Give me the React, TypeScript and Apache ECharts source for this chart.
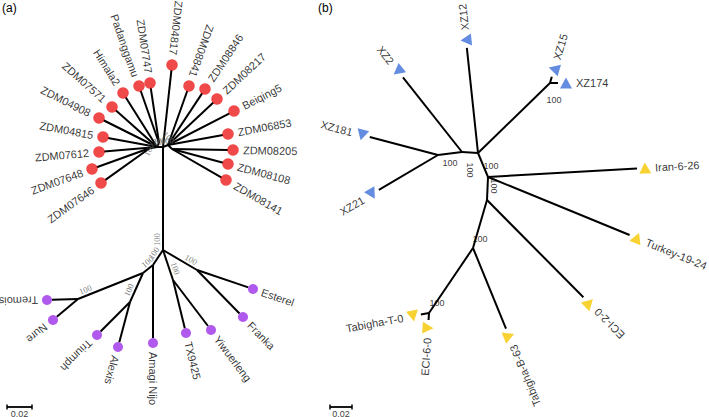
import React, { useEffect, useRef } from "react";
import * as echarts from "echarts";

// ---------------- Panel (a) data (layout units, root of the tree = 0,0) ----------------
const aInternalNames = ["R", "HL", "HLb", "HLc", "HR", "HRb", "N1", "NEF", "NTY", "NA", "NB", "NTN", "NTA"];
const aInternalParents: (string | null)[] = [null, "R", "HL", "HL", "R", "HR", "R", "N1", "N1", "N1", "NA", "NB", "NB"];
const aInternalX = [0, -6, -13, -4, 5, 9, 0, 34, 10, -10, -20, -85, -33];
const aInternalY = [0, 0, 1, -4, -2, 2, 103, 123, 133, 118, 126, 152, 155];
const aInternalSupport: (number | null)[] = [null, 100, 100, 100, 100, 100, 100, 100, 100, 100, 100, 100, 100];

const aTopTips = ["ZDM04817", "ZDM08841", "ZDM08846", "ZDM08217", "Beiqing5", "ZDM06853", "ZDM08205", "ZDM08108", "ZDM08141",
  "ZDM07747", "Padanggamu", "Himala2", "ZDM07571", "ZDM04908", "ZDM04815", "ZDM07612", "ZDM07648", "ZDM07646"];
const aTopParents = ["R", "HR", "HR", "HR", "HR", "HR", "HRb", "HRb", "HRb", "HLc", "HLc", "HL", "HL", "HL", "HL", "HL", "HLb", "HLb"];
const aTopX = [9, 26, 42, 54, 71, 65, 70, 65, 63, -13, -24, -40, -51, -64, -60, -64, -71, -62];
const aTopY = [-82, -61, -58, -48, -36, -13, 3, 17, 33, -64, -61, -54, -40, -29, -10, 5, 22, 36];

const aBottomTips = ["Esterel", "Franka", "TX9425", "Yiwuerleng", "Amagi Nijo", "Tremois", "Nure", "Triumph", "Alexis"];
const aBottomParents = ["NEF", "NEF", "NTY", "NTY", "NA", "NTN", "NTN", "NTA", "NTA"];
const aBottomX = [90, 80, 23, 48, -10, -116, -110, -66, -45];
const aBottomY = [142, 170, 186, 183, 196, 153, 173, 188, 200];

// ---------------- Panel (b) data ----------------
const bInternalNames = ["A", "B", "C", "NX", "D", "E", "F", "G"];
const bInternalParents: (string | null)[] = [null, "A", "B", "A", "A", "D", "E", "F"];
const bInternalX = [0, -16, -40, 72, 10, 9, -5, -49];
const bInternalY = [0, -1, 2, -70, 24, 47, 95, 160];
const bInternalSupport: (number | null)[] = [null, 100, 100, 100, 100, 100, 100, 100];

const bBlueTips = ["XZ12", "XZ2", "XZ15", "XZ174", "XZ181", "XZ21"];
const bBlueParents = ["A", "B", "NX", "NX", "C", "C"];
const bBlueX = [-12, -80, 76, 88, -116, -106];
const bBlueY = [-113, -82, -84, -70, -18, 41];

const bYellowTips = ["Iran-6-26", "Turkey-19-24", "ECI-2-0", "Tabigha-B-63", "Tabigha-T-0", "ECI-6-0"];
const bYellowParents = ["D", "D", "E", "F", "G", "G"];
const bYellowX = [167, 159, 111, 31, -65, -50];
const bYellowY = [15, 85, 150, 183, 163, 175];

const scaleBarValue = 0.02;
const scaleBarLabel = "0.02";
const aUnitsPerSubst = 1250;
const bUnitsPerSubst = 1100;

// ---------------- styling (not data) ----------------
const bSupportPlacement: Record<string, { dx: number; dy: number; rotate: number }> = {
  B: { dx: 8, dy: 18, rotate: -90 },
  C: { dx: 12, dy: 8, rotate: 0 },
  NX: { dx: 4, dy: 17, rotate: 0 },
  D: { dx: 3, dy: -11, rotate: 0 },
  E: { dx: 7, dy: -14, rotate: -90 },
  F: { dx: 7, dy: -9, rotate: 0 },
  G: { dx: 8, dy: -10, rotate: 0 },
};

const FONT = "Liberation Sans";

type TNode = { name: string; parent: string | null; x: number; y: number };

function makeNodes(names: string[], parents: (string | null)[], xs: number[], ys: number[]): TNode[] {
  return names.map((n, i) => ({ name: n, parent: parents[i], x: xs[i], y: ys[i] }));
}

function dirOf(n: TNode, map: Record<string, TNode>) {
  const p = map[n.parent as string];
  const dx = n.x - p.x;
  const dy = n.y - p.y;
  const len = Math.hypot(dx, dy) || 1;
  return { ux: dx / len, uy: dy / len, deg: (Math.atan2(dy, dx) * 180) / Math.PI };
}

function norm(a: number) {
  let r = a % 360;
  if (r > 180) r -= 360;
  if (r <= -180) r += 360;
  return r;
}

function edgeData(all: TNode[], map: Record<string, TNode>, tips: Set<string>, gap: number) {
  return all
    .filter((n) => n.parent)
    .map((n) => {
      const p = map[n.parent as string];
      let ex = n.x;
      let ey = n.y;
      if (tips.has(n.name)) {
        const d = dirOf(n, map);
        ex -= gap * d.ux;
        ey -= gap * d.uy;
      }
      return { coords: [[p.x, p.y], [ex, ey]] };
    });
}

function tipLabels(tips: TNode[], map: Record<string, TNode>, dist: number, flipFn: (t: number) => boolean) {
  return tips.map((n) => {
    const d = dirOf(n, map);
    const t = (d.deg + 360) % 360;
    const flip = flipFn(t);
    const rotate = norm(flip ? 180 - d.deg : -d.deg);
    return {
      name: n.name,
      value: [n.x + dist * d.ux, n.y + dist * d.uy],
      label: { rotate, align: flip ? "right" : "left", verticalAlign: "middle" },
    };
  });
}

function tipMarkers(tips: TNode[], map: Record<string, TNode>, rotateSymbols: boolean) {
  return tips.map((n) => {
    const d = dirOf(n, map);
    return rotateSymbols ? { value: [n.x, n.y], symbolRotate: norm(-d.deg) } : { value: [n.x, n.y] };
  });
}

function supportLabelsA(nodes: TNode[], supports: (number | null)[], map: Record<string, TNode>) {
  const out: any[] = [];
  nodes.forEach((n, i) => {
    if (!n.parent || supports[i] == null) return;
    const d = dirOf(n, map);
    const flip = d.ux < 0.05;
    const r = norm(flip ? 180 - d.deg : -d.deg);
    const rr = (r * Math.PI) / 180;
    const upx = -Math.sin(rr);
    const upy = -Math.cos(rr);
    out.push({
      name: String(supports[i]),
      value: [n.x - 4 * d.ux + 1.5 * upx, n.y - 4 * d.uy + 1.5 * upy],
      label: { rotate: r, align: flip ? "left" : "right", verticalAlign: "bottom" },
    });
  });
  return out;
}

function supportLabelsB(nodes: TNode[], supports: (number | null)[]) {
  const out: any[] = [];
  nodes.forEach((n, i) => {
    const pl = bSupportPlacement[n.name];
    if (supports[i] == null || !pl) return;
    out.push({
      name: String(supports[i]),
      value: [n.x + pl.dx, n.y + pl.dy],
      label: { rotate: pl.rotate, align: "center", verticalAlign: "middle" },
    });
  });
  return out;
}

function buildOption() {
  const aInternal = makeNodes(aInternalNames, aInternalParents, aInternalX, aInternalY);
  const aTop = makeNodes(aTopTips, aTopParents, aTopX, aTopY);
  const aBottom = makeNodes(aBottomTips, aBottomParents, aBottomX, aBottomY);
  const aAll = [...aInternal, ...aTop, ...aBottom];
  const aMap: Record<string, TNode> = {};
  aAll.forEach((n) => (aMap[n.name] = n));
  const aTipSet = new Set([...aTopTips, ...aBottomTips]);

  const bInternal = makeNodes(bInternalNames, bInternalParents, bInternalX, bInternalY);
  const bBlue = makeNodes(bBlueTips, bBlueParents, bBlueX, bBlueY);
  const bYellow = makeNodes(bYellowTips, bYellowParents, bYellowX, bYellowY);
  const bAll = [...bInternal, ...bBlue, ...bYellow];
  const bMap: Record<string, TNode> = {};
  bAll.forEach((n) => (bMap[n.name] = n));
  const bTipSet = new Set([...bBlueTips, ...bYellowTips]);

  const tipLabelStyle = {
    show: true,
    position: "inside" as const,
    formatter: "{b}",
    fontFamily: FONT,
    fontSize: 11,
    color: "#000",
  };

  const hiddenPoint = {
    type: "scatter" as const,
    symbolSize: 1,
    itemStyle: { color: "transparent" },
    silent: true,
  };

  const aBarLen = scaleBarValue * aUnitsPerSubst;
  const bBarLen = scaleBarValue * bUnitsPerSubst;
  const aBarX = -156;
  const aBarY = 260;
  const bBarX = -148;
  const bBarY = 254;

  const scaleBar = (xi: number, x0: number, y0: number, len: number) => [
    {
      type: "line" as const,
      xAxisIndex: xi,
      yAxisIndex: xi,
      data: [[x0, y0], [x0 + len, y0]],
      symbol: "rect",
      symbolSize: [1.5, 5],
      showSymbol: true,
      lineStyle: { color: "#000", width: 1.8 },
      itemStyle: { color: "#000" },
      silent: true,
    },
    {
      ...hiddenPoint,
      xAxisIndex: xi,
      yAxisIndex: xi,
      data: [{ name: scaleBarLabel, value: [x0 + len / 2, y0 + 6.5] }],
      label: { show: true, position: "inside", formatter: "{b}", fontFamily: FONT, fontSize: 9, color: "#000" },
    },
  ];

  return {
    animation: false,
    textStyle: { fontFamily: FONT },
    title: [
      { text: "(a)", left: 2, top: 2, padding: 0, textStyle: { fontSize: 12, fontWeight: "normal", fontFamily: FONT, color: "#000" } },
      { text: "(b)", left: 318, top: 2, padding: 0, textStyle: { fontSize: 12, fontWeight: "normal", fontFamily: FONT, color: "#000" } },
    ],
    grid: [
      { left: 0, top: 0, width: 355, height: 417 },
      { left: 315, top: 0, width: 394, height: 417 },
    ],
    xAxis: [
      { type: "value", gridIndex: 0, min: -163, max: 192, show: false },
      { type: "value", gridIndex: 1, min: -163, max: 231, show: false },
    ],
    yAxis: [
      { type: "value", gridIndex: 0, min: -147, max: 270, inverse: true, show: false },
      { type: "value", gridIndex: 1, min: -153, max: 264, inverse: true, show: false },
    ],
    series: [
      // ---------- panel (a) ----------
      {
        type: "lines",
        coordinateSystem: "cartesian2d",
        xAxisIndex: 0,
        yAxisIndex: 0,
        data: edgeData(aAll, aMap, aTipSet, 5),
        lineStyle: { color: "#000", width: 2, opacity: 1 },
        silent: true,
      },
      {
        ...hiddenPoint,
        xAxisIndex: 0,
        yAxisIndex: 0,
        data: supportLabelsA(aInternal, aInternalSupport, aMap),
        label: { show: true, position: "inside", formatter: "{b}", fontFamily: "Liberation Serif", fontSize: 8.5, color: "#555" },
      },
      {
        type: "scatter",
        xAxisIndex: 0,
        yAxisIndex: 0,
        symbol: "circle",
        symbolSize: 11.5,
        itemStyle: { color: "#ec1c1c" },
        data: tipMarkers(aTop, aMap, false),
        silent: true,
      },
      {
        type: "scatter",
        xAxisIndex: 0,
        yAxisIndex: 0,
        symbol: "circle",
        symbolSize: 10,
        itemStyle: { color: "#9b30e8" },
        data: tipMarkers(aBottom, aMap, false),
        silent: true,
      },
      {
        ...hiddenPoint,
        xAxisIndex: 0,
        yAxisIndex: 0,
        data: tipLabels(aTop, aMap, 10, (t) => t > 90 && t < 297),
        label: tipLabelStyle,
      },
      {
        ...hiddenPoint,
        xAxisIndex: 0,
        yAxisIndex: 0,
        data: tipLabels(aBottom, aMap, 9, () => false),
        label: tipLabelStyle,
      },
      ...scaleBar(0, aBarX, aBarY, aBarLen),
      // ---------- panel (b) ----------
      {
        type: "lines",
        coordinateSystem: "cartesian2d",
        xAxisIndex: 1,
        yAxisIndex: 1,
        data: edgeData(bAll, bMap, bTipSet, 8),
        lineStyle: { color: "#000", width: 2, opacity: 1 },
        silent: true,
      },
      {
        ...hiddenPoint,
        xAxisIndex: 1,
        yAxisIndex: 1,
        data: supportLabelsB(bInternal, bInternalSupport),
        label: { show: true, position: "inside", formatter: "{b}", fontFamily: FONT, fontSize: 9, color: "#000" },
      },
      {
        type: "scatter",
        xAxisIndex: 1,
        yAxisIndex: 1,
        symbol: "triangle",
        symbolSize: [12, 11],
        itemStyle: { color: "#3d6fd9" },
        data: tipMarkers(bBlue, bMap, true),
        silent: true,
      },
      {
        type: "scatter",
        xAxisIndex: 1,
        yAxisIndex: 1,
        symbol: "triangle",
        symbolSize: [12, 11],
        itemStyle: { color: "#f6c700" },
        data: tipMarkers(bYellow, bMap, true),
        silent: true,
      },
      {
        ...hiddenPoint,
        xAxisIndex: 1,
        yAxisIndex: 1,
        data: tipLabels([...bBlue, ...bYellow], bMap, 10, (t) => t > 35 && t < 250),
        label: tipLabelStyle,
      },
      ...scaleBar(1, bBarX, bBarY, bBarLen),
    ],
  };
}

export default function App() {
  const ref = useRef<HTMLDivElement>(null);
  useEffect(() => {
    if (!ref.current) return;
    const chart = echarts.init(ref.current, undefined, { renderer: "svg" });
    chart.setOption(buildOption() as any);
    return () => chart.dispose();
  }, []);
  return (
    <div
      ref={ref}
      style={{ position: "absolute", left: 0, top: 0, width: 709, height: 417, background: "#fff" }}
    />
  );
}
